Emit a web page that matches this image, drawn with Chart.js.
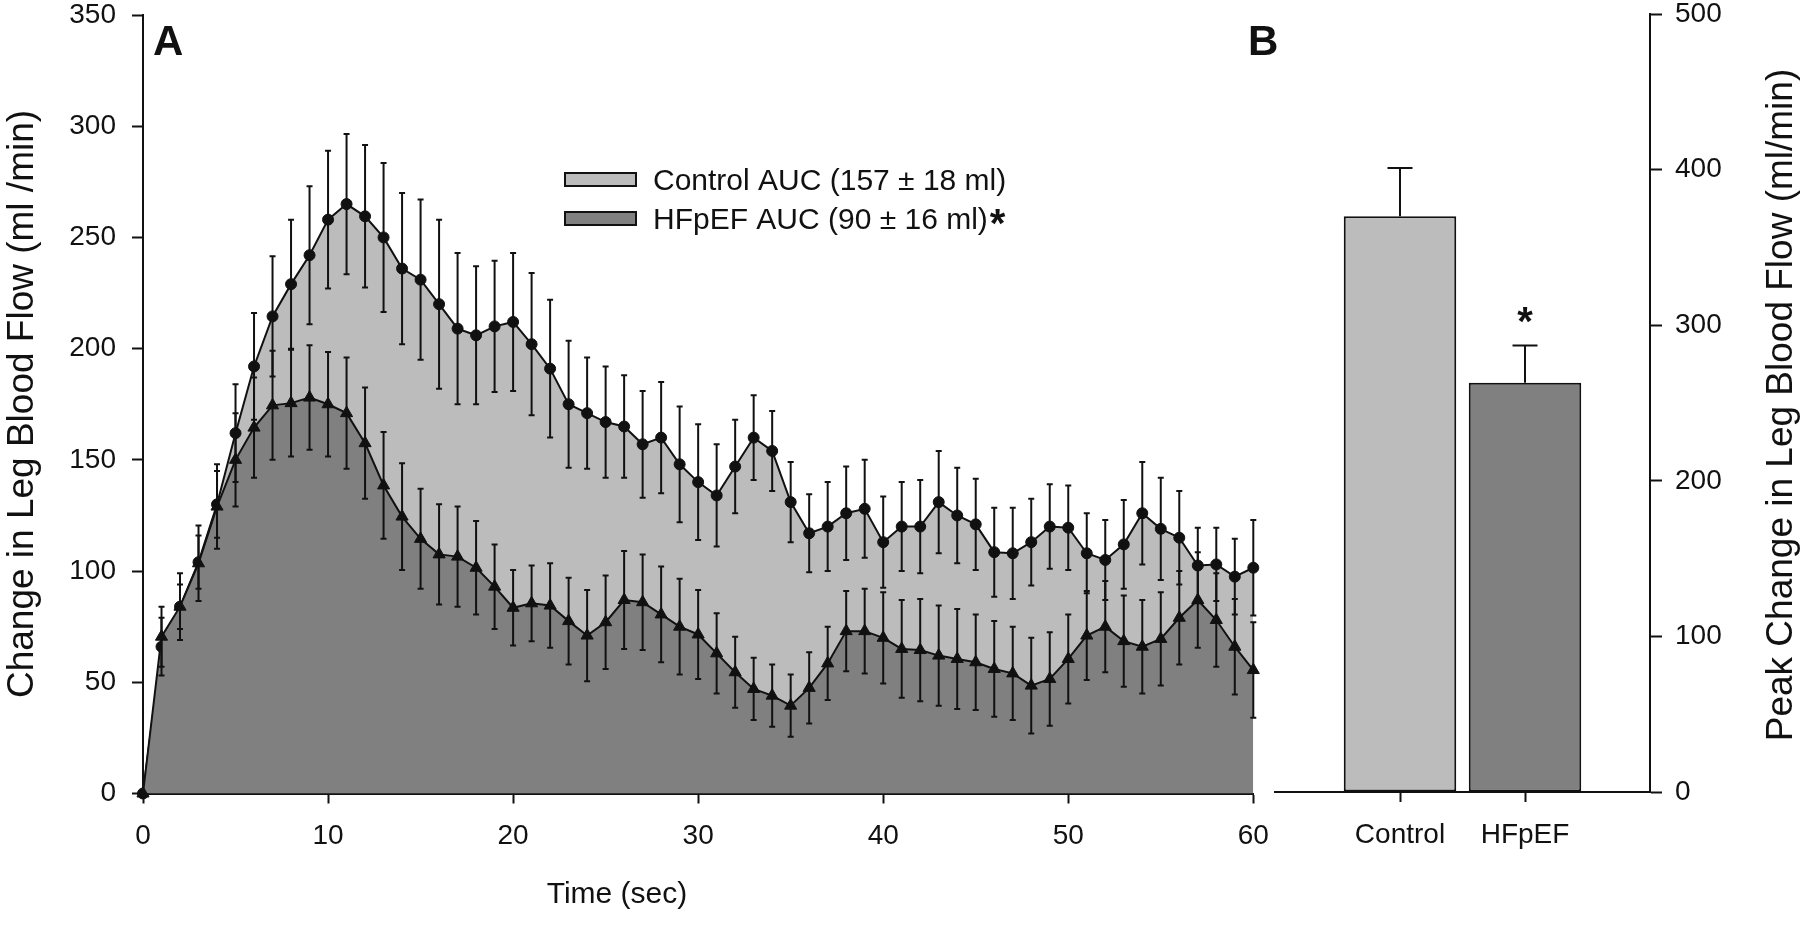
<!DOCTYPE html>
<html lang="en">
<head>
<meta charset="UTF-8">
<title>Leg blood flow</title>
<script src="https://cdn.jsdelivr.net/npm/chart.js"></script>
<style>
  html, body { margin: 0; padding: 0; background: #fff; }
  body { width: 1800px; height: 926px; position: relative; overflow: hidden; }
  #flowChart { position: absolute; left: 0; top: 0; }
  #peakChart { position: absolute; left: 1240px; top: 0; }
</style>
</head>
<body>
<canvas id="flowChart" width="1270" height="926"></canvas>
<canvas id="peakChart" width="560" height="926"></canvas>

<script>
// time axis, 0..60 s
const seconds = Array.from({ length: 61 }, (_, i) => i);

const controlFlow = [
  0, 66, 84, 104, 130, 162, 192, 214.5, 229, 242,
  258, 265, 259.5, 250, 236, 231, 220, 209, 206, 210,
  212, 202, 191, 175, 171, 167, 165, 157, 160, 148,
  140, 134, 147, 160, 154, 131, 117, 120, 126, 128,
  113, 120, 120, 131, 125, 121, 108.5, 108, 113, 120,
  119.5, 108, 105, 112, 126, 119, 115, 102.5, 103, 97.5,
  101.5
];
const controlSE = [
  0, 13, 10, 12, 15, 22, 24, 27, 29, 31,
  31, 31.5, 32, 33.5, 34, 36, 38, 34, 31, 29.5,
  31, 32, 31, 28.5, 25, 25, 23, 24, 25, 26,
  26, 23, 21, 19, 18, 18, 17.5, 20, 21, 22,
  20.5, 20, 21, 23, 21.5, 20.5, 20, 20.5, 19.5, 19,
  19, 18, 18, 20, 23, 23, 21, 17, 16.5, 17,
  21.5
];
const hfpefFlow = [
  0, 70.5, 84, 103.5, 129, 150, 164.5, 174.5, 175.5, 178,
  175, 171, 157.5, 138.5, 124.5, 114.5, 107.5, 106.5, 101.5, 93,
  83.5, 85.5, 84.5, 77.5, 71, 77, 87, 86, 80.5, 75,
  71.5, 63, 54.5, 47, 44, 39.5, 47.5, 58.5, 73, 73,
  70, 65, 64.5, 62, 60.5, 59, 56, 54, 48.5, 51.5,
  60.5, 71, 75, 68.5, 66, 69.5, 79, 87, 78, 66,
  55.5
];
const hfpefSE = [
  0, 13.5, 15, 17, 19, 21, 22.5, 24.5, 24, 23.5,
  23.5, 25, 25, 24, 24, 22.5, 22.5, 22.5, 21, 19,
  17, 17, 19, 19.5, 20.5, 21, 22, 21.5, 21.5, 21.5,
  20, 18, 16, 14, 14, 14, 16, 16.5, 18, 19,
  20.5, 22, 23, 22.5, 22.5, 21.5, 21.5, 21, 21.5, 21,
  20, 20, 20.5, 20.5, 21, 21, 21, 21.5, 21, 21.5,
  21.5
];
const legendLabels = ['Control AUC (157 \u00b1 18 ml)', 'HFpEF AUC (90 \u00b1 16 ml)'];

const groups = ['Control', 'HFpEF'];
const groupPos = [1, 2];
const peakFlow = [370, 263];
const peakSE = [31, 24];

const INK = '#111';
const LIGHT = '#bcbcbc';
const DARK = '#808080';
const FONT = "'Liberation Sans', Arial, sans-serif";

Chart.defaults.font.family = FONT;
Chart.defaults.color = INK;

// force exact scale boxes so the plot areas land where the figure has them
function fixBox(w, h) {
  return scale => {
    if (w != null) scale.width = w;
    if (h != null) scale.height = h;
    scale.paddingTop = scale.paddingBottom = scale.paddingLeft = scale.paddingRight = 0;
  };
}

function axisStyle(tickLength) {
  return {
    grid: { drawOnChartArea: false, offset: false, tickLength: tickLength, tickWidth: 2, tickColor: INK },
    border: { display: true, color: INK, width: 2 }
  };
}

function rotatedText(ctx, text, x, y, size) {
  ctx.save();
  ctx.translate(x, y);
  ctx.rotate(-Math.PI / 2);
  ctx.font = size + 'px ' + FONT;
  ctx.textAlign = 'center';
  ctx.textBaseline = 'alphabetic';
  ctx.fillText(text, 0, 0);
  ctx.restore();
}

function star(ctx, x, yCenter, align) {
  ctx.save();
  ctx.font = 'bold 40px ' + FONT;
  ctx.textAlign = align;
  ctx.textBaseline = 'alphabetic';
  ctx.fillText('*', x, yCenter + 16);
  ctx.restore();
}

// ---------- panel A ----------
const flowErrorBars = {
  id: 'flowErrorBars',
  afterDatasetsDraw(chart) {
    const { ctx, scales: { x, y } } = chart;
    ctx.save();
    ctx.strokeStyle = INK;
    ctx.lineWidth = 2;
    [[controlFlow, controlSE], [hfpefFlow, hfpefSE]].forEach(([vals, se]) => {
      vals.forEach((v, i) => {
        if (!se[i]) return;
        const px = x.getPixelForValue(seconds[i]);
        const top = y.getPixelForValue(v + se[i]);
        const bot = y.getPixelForValue(v - se[i]);
        ctx.beginPath();
        ctx.moveTo(px, top); ctx.lineTo(px, bot);
        ctx.moveTo(px - 3, top); ctx.lineTo(px + 3, top);
        ctx.moveTo(px - 3, bot); ctx.lineTo(px + 3, bot);
        ctx.stroke();
      });
    });
    ctx.restore();
  }
};

const flowDecor = {
  id: 'flowDecor',
  afterDraw(chart) {
    const ctx = chart.ctx;
    ctx.save();
    ctx.fillStyle = INK;

    ctx.font = 'bold 42px ' + FONT;
    ctx.textAlign = 'left';
    ctx.textBaseline = 'alphabetic';
    ctx.fillText('A', 153, 55);

    rotatedText(ctx, 'Change in Leg Blood Flow (ml /min)', 33, 404, 37);

    ctx.font = '30px ' + FONT;
    ctx.textAlign = 'center';
    ctx.fillText('Time (sec)', 617, 903);

    // legend
    const fills = [LIGHT, DARK];
    const rows = [179.5, 218.5];
    ctx.font = '30px ' + FONT;
    ctx.textAlign = 'left';
    rows.forEach((cy, i) => {
      ctx.fillStyle = fills[i];
      ctx.fillRect(565, cy - 6.5, 71, 13);
      ctx.strokeStyle = INK;
      ctx.lineWidth = 2;
      ctx.strokeRect(565, cy - 6.5, 71, 13);
      ctx.fillStyle = INK;
      ctx.fillText(legendLabels[i], 653, cy + 10.5);
    });
    const w = ctx.measureText(legendLabels[1]).width;
    star(ctx, 653 + w + 2, 221, 'left');
    ctx.restore();
  }
};

new Chart(document.getElementById('flowChart'), {
  type: 'line',
  data: {
    datasets: [
      {
        label: 'HFpEF',
        data: seconds.map((t, i) => ({ x: t, y: hfpefFlow[i] })),
        borderColor: INK,
        borderWidth: 2,
        backgroundColor: DARK,
        fill: 'origin',
        tension: 0,
        pointStyle: 'triangle',
        pointRadius: 7,
        pointBackgroundColor: INK,
        pointBorderColor: INK,
        pointBorderWidth: 1,
        clip: false
      },
      {
        label: 'Control',
        data: seconds.map((t, i) => ({ x: t, y: controlFlow[i] })),
        borderColor: INK,
        borderWidth: 2,
        backgroundColor: LIGHT,
        fill: 'origin',
        tension: 0,
        pointStyle: 'circle',
        pointRadius: 5.5,
        pointBackgroundColor: INK,
        pointBorderColor: INK,
        pointBorderWidth: 1,
        clip: false
      }
    ]
  },
  options: {
    responsive: false,
    animation: false,
    layout: { padding: { left: 0, top: 15, right: 16.7, bottom: 0 } },
    plugins: { legend: { display: false }, tooltip: { enabled: false } },
    scales: {
      x: {
        type: 'linear',
        min: 0,
        max: 60,
        ticks: { stepSize: 10, font: { size: 28 }, padding: 16, color: INK },
        afterFit: fixBox(null, 132.5),
        ...axisStyle(10)
      },
      y: {
        min: 0,
        max: 350,
        ticks: { stepSize: 50, font: { size: 28 }, padding: 16, color: INK },
        afterFit: fixBox(143, null),
        ...axisStyle(11)
      }
    }
  },
  plugins: [flowErrorBars, flowDecor]
});

// ---------- panel B ----------
const peakDecor = {
  id: 'peakDecor',
  afterDatasetsDraw(chart) {
    const { ctx, scales: { x, y } } = chart;
    ctx.save();
    ctx.strokeStyle = INK;
    ctx.lineWidth = 2;
    peakFlow.forEach((v, i) => {
      const px = x.getPixelForValue(groupPos[i]);
      const base = y.getPixelForValue(v);
      const top = y.getPixelForValue(v + peakSE[i]);
      ctx.beginPath();
      ctx.moveTo(px, base); ctx.lineTo(px, top);
      ctx.moveTo(px - 12.5, top); ctx.lineTo(px + 12.5, top);
      ctx.stroke();
    });
    ctx.fillStyle = INK;
    const hx = x.getPixelForValue(groupPos[1]);
    star(ctx, hx, y.getPixelForValue(peakFlow[1] + peakSE[1]) - 26, 'center');
    ctx.restore();
  },
  afterDraw(chart) {
    const ctx = chart.ctx;
    ctx.save();
    ctx.fillStyle = INK;
    ctx.font = 'bold 42px ' + FONT;
    ctx.textAlign = 'left';
    ctx.textBaseline = 'alphabetic';
    ctx.fillText('B', 8, 55);
    rotatedText(ctx, 'Peak Change in Leg Blood Flow (ml/min)', 551.5, 405, 37);
    ctx.restore();
  }
};

new Chart(document.getElementById('peakChart'), {
  type: 'bar',
  data: {
    datasets: [{
      data: groups.map((g, i) => ({ x: groupPos[i], y: peakFlow[i] })),
      backgroundColor: [LIGHT, DARK],
      borderColor: INK,
      borderWidth: 2,
      borderSkipped: false,
      barPercentage: 0.9,
      categoryPercentage: 1
    }]
  },
  options: {
    responsive: false,
    animation: false,
    layout: { padding: { left: 35, top: 14, right: 0, bottom: 0 } },
    plugins: { legend: { display: false }, tooltip: { enabled: false } },
    scales: {
      x: {
        type: 'linear',
        min: 0,
        max: 3,
        offset: false,
        afterBuildTicks: scale => { scale.ticks = groupPos.map(v => ({ value: v })); },
        ticks: {
          font: { size: 28 },
          padding: 16,
          color: INK,
          callback: v => groups[groupPos.indexOf(v)] || ''
        },
        afterFit: fixBox(null, 134),
        ...axisStyle(10)
      },
      y: {
        position: 'right',
        min: 0,
        max: 500,
        ticks: { stepSize: 100, font: { size: 28 }, padding: 13, color: INK },
        afterFit: fixBox(150, null),
        ...axisStyle(12)
      }
    }
  },
  plugins: [peakDecor]
});
</script>
</body>
</html>
